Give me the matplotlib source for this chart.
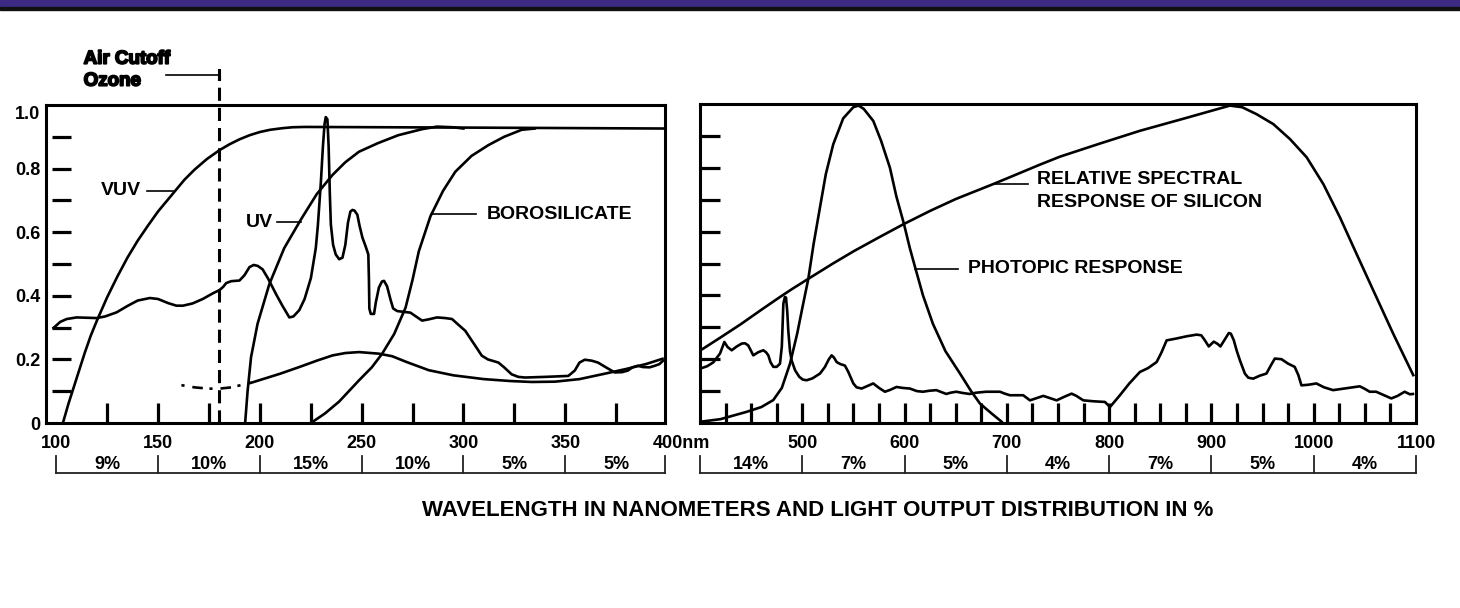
import numpy as np
import matplotlib
matplotlib.use("Agg")
import matplotlib.pyplot as plt
from matplotlib.patches import Rectangle
import matplotlib.patheffects as pe

plt.rcParams['font.family'] = ['Liberation Sans', 'DejaVu Sans']
plt.rcParams['font.weight'] = 'bold'

# ---- left panel (100-400 nm) ----
vuv_nm = [103.3, 106, 108, 111, 114, 117, 120, 125, 130, 135, 140, 145, 150, 157.4, 163, 168,
          174, 180.2, 185, 190, 195, 200, 205, 211, 216, 222, 300, 399]
vuv_val = [0, .06, .10, .16, .22, .275, .322, .395, .46, .52, .573, .62, .665, .722, .765, .797,
           .83, .858, .876, .892, .905, .915, .922, .927, .93, .931, .929, .926]

uv_nm = [192.8, 194, 195.7, 198.9, 204.7, 212, 220.2, 228, 235.7, 242, 248.7, 258, 268, 279.7, 287, 295, 300]
uv_val = [0, .1, .207, .312, .437, .55, .64, .72, .78, .82, .853, .88, .905, .924, .932, .93, .926]

boro_nm = [225.1, 232, 238.9, 248.7, 255, 260.1, 266, 271.6, 275, 278.1, 283.8, 290, 296, 304, 312.3, 320, 328.6, 335]
boro_val = [0, .03, .067, .134, .175, .218, .28, .363, .45, .54, .65, .73, .79, .84, .874, .90, .922, .926]

low_dash_nm = [161.5, 168, 175, 180, 186, 190, 196]
low_dash_val = [.119, .112, .108, .108, .112, .118, .127]
low_nm = [196, 200, 210, 219.4, 228, 235.7, 242, 248.7, 258.5, 265, 272, 283, 295, 310, 323,
          333.5, 345, 357, 369.4, 380, 390, 397.8]
low_val = [.127, .135, .155, .176, .196, .2125, .22, .223, .218, .21, .192, .166, .15, .138, .132,
           .129, .13, .138, .155, .17, .186, .202]

lampL_nm = [98.7, 102, 105.2, 110, 115, 119.9, 124, 129.7, 135, 140, 146, 150, 155, 159, 162.3,
            167, 172, 177, 180.2, 182, 183.5, 186, 190, 192.5, 194.9, 197, 199, 201.4, 204, 206,
            208, 211, 214.5, 216.5, 219.4, 222, 225.1, 227.5, 228.5, 230, 231, 231.8, 232.4, 233.2,
            233.8, 234.4, 234.9, 236, 237.3, 239, 240.6, 242, 243.3, 244.5, 245.5, 246.5, 247.9,
            249, 250.4, 252, 253.3, 253.6, 253.8, 254.5, 256.1, 257, 258.5, 260, 261, 262.5, 264.2,
            265.5, 267.5, 270, 274, 276, 279.7, 283, 287, 291, 294.4, 297, 300.9, 305.8, 309, 312,
            317.2, 320, 323.7, 327, 330.3, 340, 351.5, 354.7, 357, 359.6, 363, 366.1, 370, 374.3,
            378, 380.8, 383, 385.7, 388, 391.4, 394, 396.2, 397.9]
lampL_val = [.299, .318, .327, .332, .331, .330, .335, .348, .368, .385, .393, .39, .377, .369, .369,
             .376, .39, .408, .418, .428, .44, .446, .448, .465, .49, .497, .494, .483, .455, .43,
             .405, .37, .332, .335, .355, .39, .456, .55, .62, .758, .87, .94, .962, .955,
             .87, .72, .624, .56, .53, .515, .52, .56, .63, .665, .67, .668, .655,
             .62, .583, .555, .53, .45, .36, .343, .343, .38, .426, .445, .447, .43, .388,
             .36, .352, .35, .347, .338, .322, .326, .332, .33, .327, .312, .29, .243, .212, .2,
             .19, .175, .153, .145, .143, .145, .148, .165, .19, .199, .196, .19, .175, .159,
             .16, .165, .175, .18, .176, .175, .18, .185, .195]

# ---- right panel (400-1100 nm) ----
si_nm = [400.6, 420, 440, 460, 478.2, 490, 505.9, 530, 550, 575, 599.4, 625, 650, 686.7, 710,
         732.4, 752, 790, 830.1, 875, 918, 930, 944.2, 960.5, 976.8, 993.1, 1009.4, 1025.6,
         1041.9, 1058.2, 1077.7, 1097.3]
si_val = [.228, .268, .31, .355, .395, .42, .452, .5, .538, .582, .624, .665, .702, .749, .78,
          .81, .835, .875, .916, .956, .995, .99, .968, .937, .89, .833, .749, .645,
          .53, .416, .28, .15]

phot_nm = [400.6, 420, 445.6, 460, 471.7, 480, 488, 495, 500, 505.9, 511, 517.3, 523, 530.3,
           540, 549.9, 555, 560, 569.4, 577, 585.7, 592, 599.4, 605, 609.8, 618, 627.7, 640,
           654.2, 665, 673.7, 685, 694.9]
phot_val = [.004, .012, .035, .05, .072, .11, .186, .28, .36, .452, .56, .676, .78, .874,
            .955, .99, .995, .985, .947, .885, .8, .71, .624, .55, .494, .4, .311, .225,
            .155, .1, .061, .03, .004]

lampR_nm = [400.6, 407, 413, 419.6, 423.8, 427, 431, 436, 440.8, 444, 447.2, 450, 452.1, 457,
            461.9, 464.5, 466.8, 469, 471.7, 475, 478.2, 480, 481.5, 483, 484.1, 485.3, 486.3,
            488, 489.6, 493, 497, 500.5, 504.3, 510, 517.3, 522, 526, 528.7, 531, 533.6, 537,
            541.7, 545, 549.9, 553, 558, 563, 569.4, 575, 580.8, 586, 592.2, 598, 605.2, 612,
            617.9, 624, 631, 636, 640.8, 645, 650.6, 657, 663.6, 670, 679.8, 688, 693.3, 698,
            703, 716, 722.6, 729, 735.6, 742, 748.7, 756, 763.3, 768, 774.7, 785, 795.9, 800.8,
            810, 820, 830.1, 838, 846.4, 851, 856.2, 866, 876, 885.5, 890, 893, 897.4, 902.3,
            906, 908.8, 913.7, 917, 919, 921.8, 924.6, 928, 932.7, 936, 940.8, 947, 953.8, 958,
            962, 968.5, 975, 981.4, 985, 988, 995, 1002.6, 1010, 1018.9, 1030, 1045, 1050,
            1054.7, 1061, 1068, 1075.9, 1082, 1088.9, 1094, 1097]
lampR_val = [.171, .178, .19, .218, .254, .238, .228, .24, .249, .25, .243, .225, .212, .222,
             .228, .222, .212, .19, .176, .176, .186, .24, .374, .395, .393, .35, .29,
             .225, .196, .165, .145, .136, .134, .14, .155, .175, .2, .212, .205, .191, .185,
             .18, .16, .124, .112, .108, .115, .124, .11, .098, .104, .113, .11, .108, .1,
             .098, .101, .103, .097, .091, .095, .098, .094, .091, .095, .098, .098, .098, .092,
             .087, .087, .071, .078, .085, .078, .071, .082, .092, .085, .071, .068, .066, .05,
             .085, .125, .16, .172, .191, .22, .259, .265, .272, .277, .275, .262, .24, .255,
             .248, .24, .265, .282, .28, .26, .228, .195, .155, .142, .139, .148, .155, .18,
             .202, .2, .186, .176, .15, .118, .12, .124, .112, .103, .108, .115, .107,
             .098, .098, .088, .077, .085, .098, .09, .091]

# ---- axis text ----
left_xticks = [100, 150, 200, 250, 300, 350]
right_xticks = [500, 600, 700, 800, 900, 1000, 1100]
left_yticks = [0, 0.2, 0.4, 0.6, 0.8, 0.975]
left_ylabels = ["0", "0.2", "0.4", "0.6", "0.8", "1.0"]
left_edges = [100, 150, 200, 250, 300, 350, 400]
left_pct = ["9%", "10%", "15%", "10%", "5%", "5%"]
right_edges = [400, 500, 600, 700, 800, 900, 1000, 1100]
right_pct = ["14%", "7%", "5%", "4%", "7%", "5%", "4%"]

LW = 1.9
SP = 2.2
FS = 13      # tick labels and percentages
FL = 14      # curve labels

fig = plt.figure(figsize=(14.6, 6.08), dpi=100)
# header band
fig.patches.append(Rectangle((0, 1 - 7 / 608), 1, 7 / 608, transform=fig.transFigure,
                             color="#3c2a85", zorder=0))
fig.patches.append(Rectangle((0, 1 - 9.5 / 608), 1, 2.5 / 608, transform=fig.transFigure,
                             color="#111111", zorder=0))

axL = fig.add_axes([46 / 1460, 1 - 423 / 608, 619 / 1460, 318 / 608])
axR = fig.add_axes([700 / 1460, 1 - 423 / 608, 716 / 1460, 319 / 608])

for ax in (axL, axR):
    for s in ax.spines.values():
        s.set_linewidth(SP)
    ax.set_ylim(0, 1.0)
    ax.tick_params(which="major", length=0, labelsize=FS, pad=9)
    ax.tick_params(which="minor", direction="in", length=14.4, width=2.3)
    ax.xaxis.remove_overlapping_locs = False

# ---- left ----
axL.set_xlim(95, 399)
axL.plot(vuv_nm, vuv_val, color="k", lw=LW)
axL.plot(uv_nm, uv_val, color="k", lw=LW)
axL.plot(boro_nm, boro_val, color="k", lw=LW)
axL.plot(low_dash_nm, low_dash_val, color="k", lw=LW, ls=(0, (1.2, 3, 4, 2.5)))
axL.plot(low_nm, low_val, color="k", lw=LW)
axL.plot(lampL_nm, lampL_val, color="k", lw=LW)
axL.axvline(180, ymin=0, ymax=1.094, color="k", lw=SP, ls=(0, (4.3, 2.3)), clip_on=False)
axL.plot([180, 180], [1.081, 1.109], color="k", lw=SP, clip_on=False)
axL.plot([153.8, 180], [1.093, 1.093], color="k", lw=1.2, clip_on=False)

axL.set_xticks(left_xticks)
axL.set_xticklabels([str(v) for v in left_xticks])
axL.set_xticks(np.arange(125, 400, 25), minor=True)
axL.set_yticks(left_yticks)
axL.set_yticklabels(left_ylabels)
axL.tick_params(axis="y", pad=4)
axL.hlines(np.arange(0.1, 0.95, 0.1), 0.0097, 0.040, transform=axL.get_yaxis_transform(),
           color="k", lw=2.3)
axL.annotate("400nm", xy=(400, 0), xycoords=("data", "axes fraction"), xytext=(-10.5, -15.1),
             textcoords="offset points", ha="left", va="center", fontsize=FS,
             annotation_clip=False)

txt_stroke = [pe.withStroke(linewidth=1.3, foreground="k")]
axL.text(113.5, 1.144, "Air Cutoff", fontsize=13.5, ha="left", va="center", clip_on=False,
         path_effects=txt_stroke)
axL.text(113.5, 1.075, "Ozone", fontsize=13.5, ha="left", va="center", clip_on=False,
         path_effects=txt_stroke)

axL.text(131.8, 0.731, "VUV", fontsize=FL, ha="center", va="center")
axL.plot([144.5, 157.2], [0.731, 0.731], color="k", lw=1.2)
axL.text(200, 0.631, "UV", fontsize=FL, ha="center", va="center")
axL.plot([208.6, 220.4], [0.631, 0.631], color="k", lw=1.2)
axL.text(311.4, 0.656, "BOROSILICATE", fontsize=FL, ha="left", va="center")
axL.plot([284, 306], [0.656, 0.656], color="k", lw=1.2)

# ---- right ----
axR.set_xlim(400, 1100)
axR.plot(si_nm, si_val, color="k", lw=LW)
axR.plot(phot_nm, phot_val, color="k", lw=LW)
axR.plot(lampR_nm, lampR_val, color="k", lw=LW)
axR.set_xticks(right_xticks)
axR.set_xticklabels([str(v) for v in right_xticks])
axR.set_xticks(np.arange(425, 1100, 25), minor=True)
axR.set_yticks([])
axR.set_yticks(np.arange(0.1, 0.95, 0.1), minor=True)

axR.text(729.4, 0.7625, "RELATIVE SPECTRAL", fontsize=FL, ha="left", va="center")
axR.text(729.4, 0.69, "RESPONSE OF SILICON", fontsize=FL, ha="left", va="center")
axR.plot([686.4, 720.6], [0.75, 0.75], color="k", lw=1.2)
axR.text(662, 0.484, "PHOTOPIC RESPONSE", fontsize=FL, ha="left", va="center")
axR.plot([610, 652], [0.484, 0.484], color="k", lw=1.2)

# ---- output distribution brackets ----
for ax, edges, pct in ((axL, left_edges, left_pct), (axR, right_edges, right_pct)):
    lo, hi = ax.get_xlim()
    tr = ax.get_xaxis_transform()
    xs = [min(max(e, lo), hi) for e in edges]
    ax.plot([xs[0], xs[-1]], [-0.157, -0.157], color="#222222", lw=1.3, transform=tr,
            clip_on=False)
    for x in xs:
        ax.plot([x, x], [-0.104, -0.157], color="#222222", lw=1.3, transform=tr, clip_on=False)
    for a, b, p in zip(edges[:-1], edges[1:], pct):
        ax.text((a + b) / 2, -0.129, p, fontsize=FS, ha="center", va="center", transform=tr)

fig.text(818 / 1460, 1 - 510 / 608, "WAVELENGTH IN NANOMETERS AND LIGHT OUTPUT DISTRIBUTION IN %",
         fontsize=16, ha="center", va="center")

fig.savefig("out.png", dpi=100)
